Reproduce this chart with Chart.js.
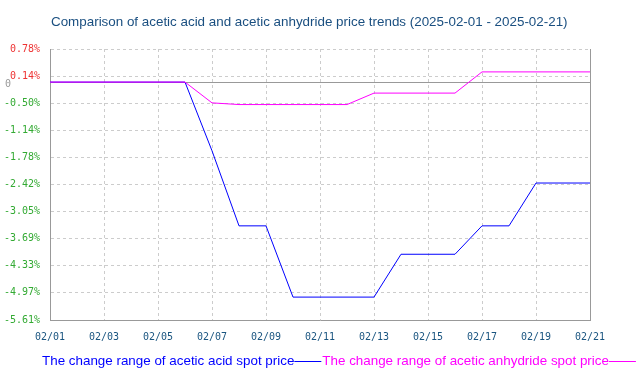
<!DOCTYPE html>
<html>
<head>
<meta charset="utf-8">
<script src="https://cdn.jsdelivr.net/npm/chart.js@4/dist/chart.umd.min.js"></script>
<style>
html,body{margin:0;padding:0;background:#fff;}
#wrap{position:relative;width:640px;height:382px;}
</style>
</head>
<body>
<div id="wrap"><canvas id="c" width="640" height="382"></canvas></div>
<script>
const titleText = 'Comparison of acetic acid and acetic anhydride price trends (2025-02-01 - 2025-02-21)';
const dates = ['02/01','02/02','02/03','02/04','02/05','02/06','02/07','02/08','02/09','02/10','02/11','02/12','02/13','02/14','02/15','02/16','02/17','02/18','02/19','02/20','02/21'];
const aceticAcid = [0,0,0,0,0,0,-1.62,-3.39,-3.39,-5.07,-5.07,-5.07,-5.07,-4.06,-4.06,-4.06,-3.39,-3.39,-2.38,-2.38,-2.38];
const aceticAnhydride = [0,0,0,0,0,0,-0.49,-0.53,-0.53,-0.53,-0.53,-0.53,-0.26,-0.26,-0.26,-0.26,0.24,0.24,0.24,0.24,0.24];
const yTicks = [0.78,0.14,-0.50,-1.14,-1.78,-2.42,-3.05,-3.69,-4.33,-4.97,-5.61];
const seriesNames = ['The change range of acetic acid spot price','The change range of acetic anhydride spot price'];
const seriesColors = ['#0000ff','#ff00ff'];

const extras = {
  id: 'extras',
  beforeDatasetsDraw(chart) {
    const {ctx, chartArea: a, scales: {y}} = chart;
    const y0 = Math.round(y.getPixelForValue(0)) + 0.5;
    ctx.save();
    ctx.strokeStyle = '#999999';
    ctx.lineWidth = 1;
    ctx.beginPath();
    ctx.moveTo(a.left, y0); ctx.lineTo(a.right, y0);
    ctx.moveTo(Math.round(a.right) + 0.5, a.top); ctx.lineTo(Math.round(a.right) + 0.5, a.bottom);
    ctx.stroke();
    ctx.fillStyle = '#999999';
    ctx.font = '10px "DejaVu Sans Mono"';
    ctx.textAlign = 'left';
    ctx.textBaseline = 'middle';
    ctx.fillText('0', 5, y0 + 2);
    ctx.restore();
  },
  afterDraw(chart) {
    const {ctx} = chart;
    ctx.save();
    ctx.font = '13.4px "Liberation Sans", Arial, sans-serif';
    ctx.textBaseline = 'middle';
    ctx.textAlign = 'left';
    ctx.fillStyle = '#1a4f80';
    ctx.fillText(titleText, 51, 22);
    // legend
    let x = 42;
    const ly = 361;
    for (let i = 0; i < seriesNames.length; i++) {
      ctx.fillStyle = seriesColors[i];
      ctx.fillText(seriesNames[i], x, ly);
      x += ctx.measureText(seriesNames[i]).width;
      ctx.strokeStyle = seriesColors[i];
      ctx.lineWidth = 1;
      ctx.beginPath();
      ctx.moveTo(x, ly + 0.5); ctx.lineTo(x + 27, ly + 0.5);
      ctx.stroke();
      x += 28;
    }
    ctx.restore();
  }
};

new Chart(document.getElementById('c'), {
  type: 'line',
  data: {
    labels: dates,
    datasets: [
      {label: seriesNames[0], data: aceticAcid, borderColor: seriesColors[0], backgroundColor: seriesColors[0], borderWidth: 1, pointRadius: 0, tension: 0, order: 1},
      {label: seriesNames[1], data: aceticAnhydride, borderColor: seriesColors[1], backgroundColor: seriesColors[1], borderWidth: 1, pointRadius: 0, tension: 0, order: 0}
    ]
  },
  options: {
    responsive: false,
    animation: false,
    devicePixelRatio: 1,
    layout: {padding: {top: 49, right: 50, left: 0, bottom: 0}},
    plugins: {legend: {display: false}, tooltip: {enabled: false}, title: {display: false}},
    scales: {
      x: {
        offset: false,
        afterBuildTicks: (s) => { s.ticks = s.ticks.filter((t, i) => i % 2 === 0); },
        grid: {color: '#cccccc', lineWidth: 1, drawTicks: false},
        border: {display: true, color: '#999999', width: 1, dash: [3, 3]},
        ticks: {autoSkip: false, maxRotation: 0, color: '#1a5580', font: {family: 'DejaVu Sans Mono', size: 10}, padding: 11,
          callback: (v) => dates[v]},
        afterFit: (s) => { s.height = 62; }
      },
      y: {
        min: -5.61, max: 0.78,
        afterBuildTicks: (s) => { s.ticks = yTicks.map(v => ({value: v})); },
        grid: {color: '#cccccc', lineWidth: 1, drawTicks: false},
        border: {display: true, color: '#999999', width: 1, dash: [3, 3]},
        ticks: {padding: 10, font: {family: 'DejaVu Sans Mono', size: 10},
          color: (c) => (c.tick && c.tick.value > 0 ? '#ee3333' : '#33aa33'),
          callback: (v) => Number(v).toFixed(2) + '%'},
        afterFit: (s) => { s.width = 50; }
      }
    }
  },
  plugins: [extras]
});
</script>
</body>
</html>
